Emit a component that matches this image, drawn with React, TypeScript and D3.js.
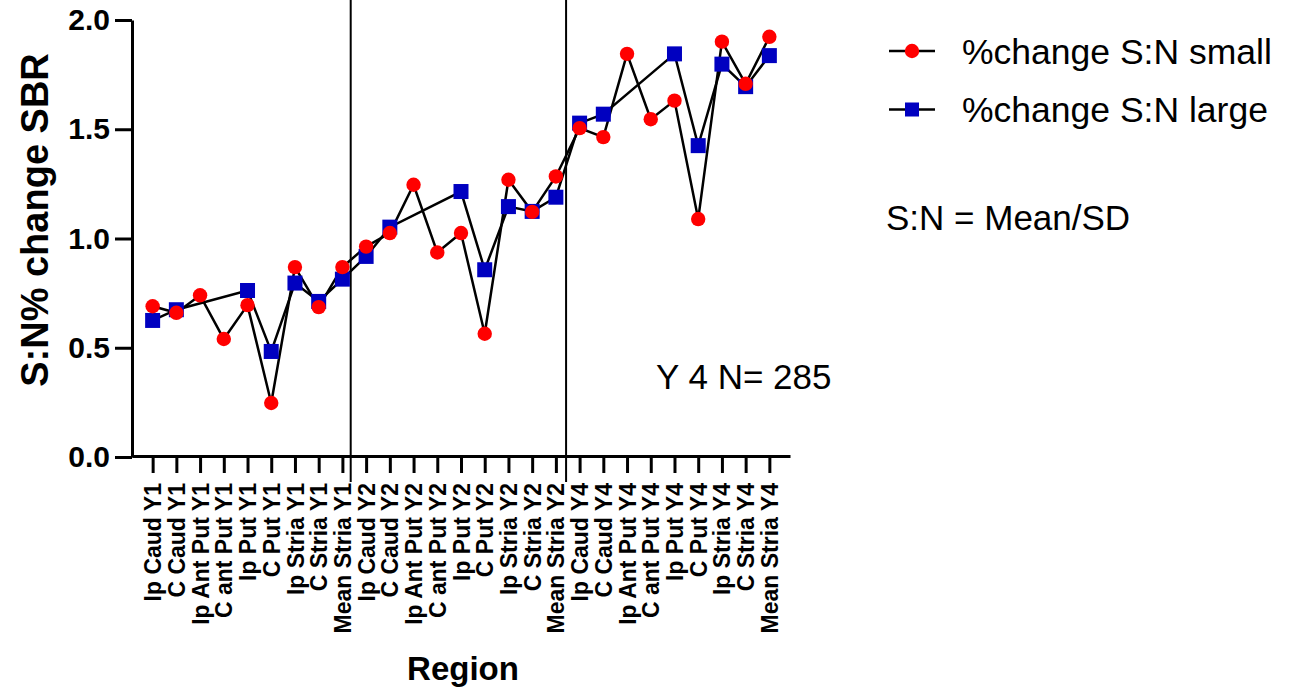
import React, { useEffect, useRef } from "react";
import * as d3 from "d3";

const categories = [
  "Ip Caud Y1", "C Caud Y1", "Ip Ant Put Y1", "C ant Put Y1", "Ip Put Y1", "C Put Y1",
  "Ip Stria Y1", "C Stria Y1", "Mean Stria Y1",
  "Ip Caud Y2", "C Caud Y2", "Ip Ant Put Y2", "C ant Put Y2", "Ip Put Y2", "C Put Y2",
  "Ip Stria Y2", "C Stria Y2", "Mean Stria Y2",
  "Ip Caud Y4", "C Caud Y4", "Ip Ant Put Y4", "C ant Put Y4", "Ip Put Y4", "C Put Y4",
  "Ip Stria Y4", "C Stria Y4", "Mean Stria Y4",
];

const smallValues = [
  0.69, 0.66, 0.74, 0.54, 0.695, 0.247, 0.869, 0.686, 0.869,
  0.963, 1.025, 1.246, 0.936, 1.025, 0.564, 1.269, 1.122, 1.284,
  1.505, 1.464, 1.845, 1.546, 1.631, 1.089, 1.901, 1.708, 1.923,
];

const largeValues: (number | null)[] = [
  0.625, 0.674, null, null, 0.762, 0.483, 0.796, 0.712, 0.814,
  0.918, 1.052, null, null, 1.215, 0.857, 1.146, 1.124, 1.189,
  1.528, 1.569, null, null, 1.845, 1.425, 1.798, 1.695, 1.837,
];

const yTicks = [0, 0.5, 1.0, 1.5, 2.0];
// group separators, in category-index units
const separators = [8.35, 17.43];

const legendLabels = ["%change S:N small", "%change S:N large"];
const noteText = "S:N = Mean/SD";
const countText = "Y 4 N= 285";

const FONT = "'Liberation Sans', Arial, Helvetica, sans-serif";

export default function App() {
  const svgRef = useRef<SVGSVGElement>(null);

  useEffect(() => {
    const svg = d3.select(svgRef.current);
    svg.selectAll("*").remove();

    const left = 132;
    const right = 790;
    const top = 20;
    const bottom = 457;

    const x = d3.scalePoint<string>().domain(categories).range([left, right]).padding(0.87);
    const y = d3.scaleLinear().domain([0, 2]).range([bottom, top]);
    const idx = d3
      .scaleLinear()
      .domain([0, categories.length - 1])
      .range([x(categories[0])!, x(categories[categories.length - 1])!]);

    // separators
    svg
      .selectAll(".sep")
      .data(separators)
      .join("line")
      .attr("x1", (d) => idx(d))
      .attr("x2", (d) => idx(d))
      .attr("y1", 0)
      .attr("y2", 482)
      .attr("stroke", "#000")
      .attr("stroke-width", 2);

    // y axis
    const yAxis = d3
      .axisLeft(y)
      .tickValues(yTicks)
      .tickFormat(d3.format(".1f"))
      .tickSize(17)
      .tickSizeOuter(0)
      .tickPadding(5);
    const gy = svg.append("g").attr("transform", `translate(${left},0)`).call(yAxis);
    gy.select(".domain").attr("stroke-width", 3).attr("stroke", "#000");
    gy.selectAll(".tick line").attr("stroke-width", 3).attr("stroke", "#000");
    gy.selectAll(".tick text")
      .attr("font-family", FONT)
      .attr("font-weight", "bold")
      .attr("font-size", 30)
      .attr("fill", "#000");

    // x axis
    const xAxis = d3.axisBottom(x).tickSize(17).tickSizeOuter(0);
    const gx = svg.append("g").attr("transform", `translate(0,${bottom - 1})`).call(xAxis);
    gx.select(".domain").attr("stroke-width", 3).attr("stroke", "#000");
    gx.selectAll(".tick line").attr("stroke-width", 3).attr("stroke", "#000");
    gx.selectAll(".tick text")
      .attr("font-family", FONT)
      .attr("font-weight", "bold")
      .attr("font-size", 23)
      .attr("fill", "#000")
      .attr("transform", "rotate(-90)")
      .attr("text-anchor", "end")
      .attr("x", -27)
      .attr("y", 0)
      .attr("dy", "0.35em");

    // axis titles
    svg
      .append("text")
      .attr("transform", `translate(48,220) rotate(-90)`)
      .attr("text-anchor", "middle")
      .attr("font-family", FONT)
      .attr("font-weight", "bold")
      .attr("font-size", 38)
      .text("S:N% change SBR");
    svg
      .append("text")
      .attr("x", 463)
      .attr("y", 680)
      .attr("text-anchor", "middle")
      .attr("font-family", FONT)
      .attr("font-weight", "bold")
      .attr("font-size", 33)
      .text("Region");

    // lines
    const smallPts = categories.map((c, i) => [x(c)!, y(smallValues[i])] as [number, number]);
    const largePts = categories
      .map((c, i) => (largeValues[i] == null ? null : ([x(c)!, y(largeValues[i] as number)] as [number, number])))
      .filter((p): p is [number, number] => p !== null);
    const line = d3.line();

    svg
      .selectAll(".series")
      .data([largePts, smallPts])
      .join("path")
      .attr("d", (d) => line(d))
      .attr("fill", "none")
      .attr("stroke", "#000")
      .attr("stroke-width", 2.5);

    const sq = 15;
    svg
      .selectAll(".sq")
      .data(largePts)
      .join("rect")
      .attr("x", (d) => d[0] - sq / 2)
      .attr("y", (d) => d[1] - sq / 2)
      .attr("width", sq)
      .attr("height", sq)
      .attr("fill", "#0000c0");

    svg
      .selectAll(".dot")
      .data(smallPts)
      .join("circle")
      .attr("cx", (d) => d[0])
      .attr("cy", (d) => d[1])
      .attr("r", 7.2)
      .attr("fill", "#ff0000");

    // legend
    const leg = svg.append("g");
    legendLabels.forEach((lab, i) => {
      const ly = 51 + i * 58.5;
      leg.append("line").attr("x1", 889).attr("x2", 935).attr("y1", ly).attr("y2", ly)
        .attr("stroke", "#000").attr("stroke-width", 2.5);
      if (i === 0) {
        leg.append("circle").attr("cx", 912).attr("cy", ly).attr("r", 7.2).attr("fill", "#ff0000");
      } else {
        leg.append("rect").attr("x", 912 - 7).attr("y", ly - 7).attr("width", 14).attr("height", 14)
          .attr("fill", "#0000c0");
      }
      leg.append("text").attr("x", 962).attr("y", ly + 12.5)
        .attr("font-family", FONT).attr("font-size", 35.5).text(lab);
    });

    svg.append("text").attr("x", 886).attr("y", 230)
      .attr("font-family", FONT).attr("font-size", 35).text(noteText);
    svg.append("text").attr("x", 656).attr("y", 389)
      .attr("font-family", FONT).attr("font-size", 35).text(countText);
  }, []);

  return (
    <svg
      ref={svgRef}
      width={1299}
      height={690}
      style={{ position: "absolute", left: 0, top: 0, display: "block", background: "#fff" }}
    />
  );
}
